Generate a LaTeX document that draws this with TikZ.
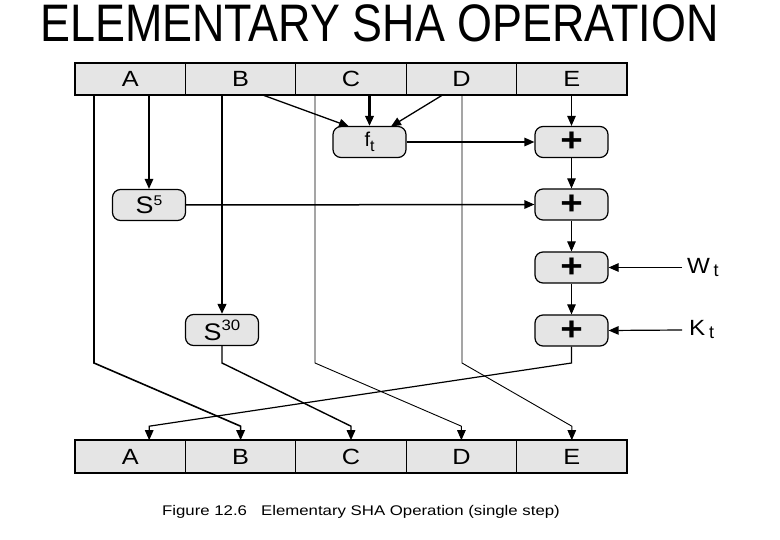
\documentclass[tikz,border=0pt]{standalone}
\usepackage{fontspec}
\setmainfont{Liberation Sans}
\usetikzlibrary{arrows.meta}
\definecolor{boxgray}{gray}{0.9}
\begin{document}
\begin{tikzpicture}[x=1pt,y=-1pt,
  reg/.style={draw=black,line width=1.1pt,fill=boxgray,minimum width=110.4pt,minimum height=31.5pt,inner sep=0pt,font=\fontsize{22}{22}\selectfont},
  op/.style={draw=black,line width=1.2pt,fill=boxgray,rounded corners=8pt,minimum width=73pt,minimum height=31pt,inner sep=0pt,font=\fontsize{20}{20}\selectfont},
  arr/.style={-{Triangle[length=10pt,width=8.5pt]}},
  plus/.style={op,font=\fontsize{35}{35}\selectfont\bfseries},
  lbl/.style={anchor=west,inner sep=0pt,font=\fontsize{22}{22}\selectfont},
]
\useasboundingbox (0,0) rectangle (780,540);
\fill[white] (0,0) rectangle (780,540);

% title and caption
\node[inner sep=0pt] (title) at (379.5,23.5) {\scalebox{1.02}[1.2]{\fontsize{44}{44}\selectfont ELEMENTARY SHA OPERATION}};
\node[inner sep=0pt] (caption) at (361,512) {\scalebox{1.2}[1]{\fontsize{14}{14}\selectfont Figure 12.6\ \ \ Elementary SHA Operation (single step)}};

% registers
\foreach \n/\x in {A/130.2,B/240.6,C/351,D/461.4,E/571.8}{
  \node[reg] (t\n) at (\x,79) {\scalebox{1.15}[1]{\n}};
  \node[reg] (b\n) at (\x,456.5) {\scalebox{1.15}[1]{\n}};
}
\draw[line width=1.8pt] (tA.north west) rectangle (tE.south east);
\draw[line width=1.8pt] (bA.north west) rectangle (bE.south east);

% operation boxes
\node[op] (ft) at (369.5,142) {\fontsize{20}{20}\selectfont f\raisebox{-5pt}{\fontsize{16}{16}\selectfont t}};
\node[plus] (p1) at (571.5,142) {\scalebox{1.1}[0.95]{+}};
\node[plus] (p2) at (571.5,204.5) {\scalebox{1.1}[0.95]{+}};
\node[plus] (p3) at (571.5,267.5) {\scalebox{1.1}[0.95]{+}};
\node[plus] (p4) at (571.5,330.5) {\scalebox{1.1}[0.95]{+}};
\node[op] (s5) at (149,205) {\scalebox{1.12}[1]{\fontsize{24}{24}\selectfont S\raisebox{8pt}{\fontsize{14}{14}\selectfont 5}}};
\node[op] (s30) at (222,330) {\scalebox{1.12}[1]{\fontsize{24}{24}\selectfont S\raisebox{10pt}{\fontsize{15}{15}\selectfont 30}}};

% labels
\node[lbl] (wt) at (687,267.5) {\scalebox{1.1}[1]{W}\,\raisebox{-3pt}{\fontsize{18}{18}\selectfont t}};
\node[lbl] (kt) at (689,330) {\scalebox{1.1}[1]{K}\,\raisebox{-3pt}{\fontsize{18}{18}\selectfont t}};

% start points on the top register
\coordinate (aL) at (94,94.75);
\coordinate (bF) at (262,94.75);
\coordinate (cL) at (315,94.75);
\coordinate (dF) at (443,94.75);
\coordinate (dL) at (462,94.75);
\coordinate (ftB) at (349,126.5);
\coordinate (ftD) at (391,126.5);

% inputs of f_t
\draw[arr,line width=1.3pt] (bF) -- (ftB);
\draw[arr,line width=2.2pt] (ft.north |- tC.south) -- (ft.north);
\draw[arr,line width=1.3pt] (dF) -- (ftD);

% A -> S5, B -> S30
\draw[arr,line width=1.4pt] (s5.north |- tA.south) -- (s5.north);
\draw[arr,line width=2.4pt] (s30.north |- tB.south) -- (s30.north);

% E chain
\draw[arr,line width=1pt] (p1.north |- tE.south) -- (p1.north);
\draw[arr,line width=1.5pt] (ft.east) -- (p1.west);
\draw[arr,line width=1.5pt] (s5.east) -- (p2.west);
\draw[arr,line width=1pt] (p1.south) -- (p2.north);
\draw[arr,line width=1pt] (p2.south) -- (p3.north);
\draw[arr,line width=1pt] (p3.south) -- (p4.north);
\draw[arr,line width=1.2pt] ([xshift=-5pt]wt.west) -- (p3.east);
\draw[arr,line width=1.2pt] ([xshift=-7pt]kt.west) -- (p4.east);

% crossings to the bottom register
\draw[arr,line width=1.6pt] (aL) -- (94,363) -- ([yshift=14pt]bB.north) -- (bB.north);
\draw[arr,line width=1.4pt] (s30.south) -- (222,363) -- ([yshift=14pt]bC.north) -- (bC.north);
\draw[arr,line width=0.9pt] (cL) -- (315,363) -- ([yshift=14pt]bD.north) -- (bD.north);
\draw[arr,line width=0.9pt] (dL) -- (462,363) -- ([yshift=14pt]bE.north) -- (bE.north);
\draw[arr,line width=1.2pt] (p4.south) -- (571.5,363) -- ([xshift=19pt,yshift=14pt]bA.north) -- ([xshift=19pt]bA.north);
\end{tikzpicture}
\end{document}
